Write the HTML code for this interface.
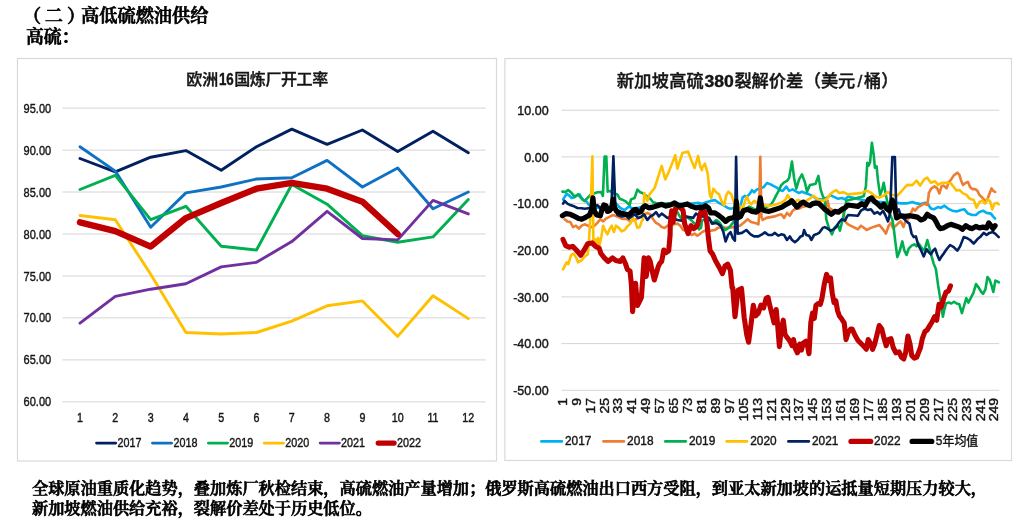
<!DOCTYPE html>
<html lang="zh"><head><meta charset="utf-8"><title>高低硫燃油供给</title>
<style>
html,body{margin:0;padding:0;background:#fff;}
body{width:1022px;height:522px;position:relative;overflow:hidden;font-family:"Liberation Sans","Noto Sans CJK SC",sans-serif;}
.h{position:absolute;margin:0;font-family:"Liberation Serif","Noto Serif CJK SC",serif;font-weight:600;-webkit-text-stroke:0.7px #000;color:#000;white-space:nowrap;}
svg{position:absolute;left:0;top:0;}
svg text{font-family:"Liberation Sans","Noto Sans CJK SC",sans-serif;fill:#151515;stroke:#151515;stroke-width:0.4px;}
</style></head><body>
<div class="h" style="left:26.5px;top:3.8px;font-size:18.2px;line-height:24px;"><span style="position:relative;left:-3.5px">（</span>二<span style="position:relative;left:4px">）</span>高低硫燃油供给</div>
<div class="h" style="left:26px;top:25.2px;font-size:17.8px;line-height:24px;">高硫：</div>
<div class="h" style="left:32px;top:479px;font-size:16.2px;line-height:20px;">全球原油重质化趋势，叠加炼厂秋检结束，高硫燃油产量增加；俄罗斯高硫燃油出口西方受阻，到亚太新加坡的运抵量短期压力较大，</div>
<div class="h" style="left:32px;top:498.7px;font-size:16.2px;line-height:20px;">新加坡燃油供给充裕，裂解价差处于历史低位。</div>
<svg width="1022" height="522" viewBox="0 0 1022 522">

<rect x="17.5" y="58.5" width="479" height="402.5" fill="#fff" stroke="#D9D9D9" stroke-width="1.2"/>
<rect x="504.9" y="58.5" width="506.6" height="402" fill="#fff" stroke="#D9D9D9" stroke-width="1.2"/>
<line x1="62.4" x2="485.7" y1="108.1" y2="108.1" stroke="#D4D4D4" stroke-width="1"/>
<text x="51.2" y="112.6" font-size="12.9" text-anchor="end" textLength="27.6" lengthAdjust="spacingAndGlyphs">95.00</text>
<line x1="62.4" x2="485.7" y1="150.1" y2="150.1" stroke="#D4D4D4" stroke-width="1"/>
<text x="51.2" y="154.6" font-size="12.9" text-anchor="end" textLength="27.6" lengthAdjust="spacingAndGlyphs">90.00</text>
<line x1="62.4" x2="485.7" y1="192.0" y2="192.0" stroke="#D4D4D4" stroke-width="1"/>
<text x="51.2" y="196.5" font-size="12.9" text-anchor="end" textLength="27.6" lengthAdjust="spacingAndGlyphs">85.00</text>
<line x1="62.4" x2="485.7" y1="234.0" y2="234.0" stroke="#D4D4D4" stroke-width="1"/>
<text x="51.2" y="238.5" font-size="12.9" text-anchor="end" textLength="27.6" lengthAdjust="spacingAndGlyphs">80.00</text>
<line x1="62.4" x2="485.7" y1="276.0" y2="276.0" stroke="#D4D4D4" stroke-width="1"/>
<text x="51.2" y="280.5" font-size="12.9" text-anchor="end" textLength="27.6" lengthAdjust="spacingAndGlyphs">75.00</text>
<line x1="62.4" x2="485.7" y1="317.9" y2="317.9" stroke="#D4D4D4" stroke-width="1"/>
<text x="51.2" y="322.4" font-size="12.9" text-anchor="end" textLength="27.6" lengthAdjust="spacingAndGlyphs">70.00</text>
<line x1="62.4" x2="485.7" y1="359.9" y2="359.9" stroke="#D4D4D4" stroke-width="1"/>
<text x="51.2" y="364.4" font-size="12.9" text-anchor="end" textLength="27.6" lengthAdjust="spacingAndGlyphs">65.00</text>
<line x1="62.4" x2="485.7" y1="401.9" y2="401.9" stroke="#D4D4D4" stroke-width="1"/>
<text x="51.2" y="406.4" font-size="12.9" text-anchor="end" textLength="27.6" lengthAdjust="spacingAndGlyphs">60.00</text>
<text x="80.0" y="422.2" font-size="12.6" text-anchor="middle" transform="translate(80.0 0) scale(0.85 1) translate(-80.0 0)">1</text>
<text x="115.3" y="422.2" font-size="12.6" text-anchor="middle" transform="translate(115.3 0) scale(0.85 1) translate(-115.3 0)">2</text>
<text x="150.7" y="422.2" font-size="12.6" text-anchor="middle" transform="translate(150.7 0) scale(0.85 1) translate(-150.7 0)">3</text>
<text x="185.9" y="422.2" font-size="12.6" text-anchor="middle" transform="translate(185.9 0) scale(0.85 1) translate(-185.9 0)">4</text>
<text x="221.2" y="422.2" font-size="12.6" text-anchor="middle" transform="translate(221.2 0) scale(0.85 1) translate(-221.2 0)">5</text>
<text x="256.5" y="422.2" font-size="12.6" text-anchor="middle" transform="translate(256.5 0) scale(0.85 1) translate(-256.5 0)">6</text>
<text x="291.8" y="422.2" font-size="12.6" text-anchor="middle" transform="translate(291.8 0) scale(0.85 1) translate(-291.8 0)">7</text>
<text x="327.1" y="422.2" font-size="12.6" text-anchor="middle" transform="translate(327.1 0) scale(0.85 1) translate(-327.1 0)">8</text>
<text x="362.4" y="422.2" font-size="12.6" text-anchor="middle" transform="translate(362.4 0) scale(0.85 1) translate(-362.4 0)">9</text>
<text x="397.7" y="422.2" font-size="12.6" text-anchor="middle" transform="translate(397.7 0) scale(0.85 1) translate(-397.7 0)">10</text>
<text x="433.0" y="422.2" font-size="12.6" text-anchor="middle" transform="translate(433.0 0) scale(0.85 1) translate(-433.0 0)">11</text>
<text x="468.3" y="422.2" font-size="12.6" text-anchor="middle" transform="translate(468.3 0) scale(0.85 1) translate(-468.3 0)">12</text>
<text x="218.3" y="85.3" font-size="16" font-weight="500" text-anchor="end" fill="#111">欧洲</text>
<text x="218.9" y="85.3" font-size="16" font-weight="700" textLength="14.8" lengthAdjust="spacingAndGlyphs" fill="#111">16</text>
<text x="234.2" y="85.3" font-size="16" font-weight="500" textLength="94" lengthAdjust="spacing" fill="#111">国炼厂开工率</text>
<polyline points="80.0,158.5 115.3,171.9 150.7,157.2 185.9,150.6 221.2,170.2 256.5,146.7 291.8,129.1 327.1,144.4 362.4,130.0 397.7,151.5 433.0,131.3 468.3,152.7" fill="none" stroke="#002060" stroke-width="2.9" stroke-linejoin="round" stroke-linecap="round"/>
<polyline points="80.0,146.7 115.3,171.1 150.7,227.3 185.9,192.9 221.2,187.0 256.5,179.0 291.8,177.8 327.1,160.4 362.4,187.0 397.7,168.0 433.0,208.8 468.3,192.0" fill="none" stroke="#0F71C3" stroke-width="2.9" stroke-linejoin="round" stroke-linecap="round"/>
<polyline points="80.0,189.5 115.3,175.3 150.7,219.7 185.9,206.3 221.2,246.2 256.5,250.0 291.8,184.5 327.1,204.2 362.4,235.7 397.7,242.2 433.0,236.9 468.3,199.6" fill="none" stroke="#00B050" stroke-width="2.9" stroke-linejoin="round" stroke-linecap="round"/>
<polyline points="80.0,215.5 115.3,219.7 150.7,274.3 185.9,332.5 221.2,334.0 256.5,332.5 291.8,321.1 327.1,305.8 362.4,300.9 397.7,336.4 433.0,295.7 468.3,318.6" fill="none" stroke="#FFC000" stroke-width="2.9" stroke-linejoin="round" stroke-linecap="round"/>
<polyline points="80.0,323.2 115.3,296.3 150.7,289.2 185.9,283.7 221.2,266.9 256.5,262.3 291.8,241.6 327.1,211.3 362.4,238.5 397.7,239.9 433.0,200.4 468.3,213.9" fill="none" stroke="#7030A0" stroke-width="2.9" stroke-linejoin="round" stroke-linecap="round"/>
<polyline points="80.0,222.3 115.3,231.1 150.7,246.6 185.9,218.1 221.2,203.0 256.5,188.7 291.8,182.8 327.1,188.7 362.4,201.7 397.7,234.0" fill="none" stroke="#C00000" stroke-width="6.4" stroke-linejoin="round" stroke-linecap="round"/>
<line x1="96.5" x2="115.8" y1="443.1" y2="443.1" stroke="#002060" stroke-width="2.7" stroke-linecap="round"/>
<text x="117.5" y="446.9" font-size="12.8" textLength="24" lengthAdjust="spacingAndGlyphs">2017</text>
<line x1="152.4" x2="171.7" y1="443.1" y2="443.1" stroke="#0F71C3" stroke-width="2.7" stroke-linecap="round"/>
<text x="173.4" y="446.9" font-size="12.8" textLength="24" lengthAdjust="spacingAndGlyphs">2018</text>
<line x1="208.3" x2="227.6" y1="443.1" y2="443.1" stroke="#00B050" stroke-width="2.7" stroke-linecap="round"/>
<text x="229.3" y="446.9" font-size="12.8" textLength="24" lengthAdjust="spacingAndGlyphs">2019</text>
<line x1="264.2" x2="283.5" y1="443.1" y2="443.1" stroke="#FFC000" stroke-width="2.7" stroke-linecap="round"/>
<text x="285.2" y="446.9" font-size="12.8" textLength="24" lengthAdjust="spacingAndGlyphs">2020</text>
<line x1="320.1" x2="339.4" y1="443.1" y2="443.1" stroke="#7030A0" stroke-width="2.7" stroke-linecap="round"/>
<text x="341.1" y="446.9" font-size="12.8" textLength="24" lengthAdjust="spacingAndGlyphs">2021</text>
<line x1="378.2" x2="394.1" y1="443.1" y2="443.1" stroke="#C00000" stroke-width="5.2" stroke-linecap="round"/>
<text x="397.0" y="446.9" font-size="12.8" textLength="24" lengthAdjust="spacingAndGlyphs">2022</text>
<line x1="561.5" x2="999.2" y1="110.2" y2="110.2" stroke="#D4D4D4" stroke-width="1"/>
<text x="0" y="0" font-size="13.2" text-anchor="end" transform="translate(548.7 114.9) scale(0.95 1)">10.00</text>
<line x1="561.5" x2="999.2" y1="156.9" y2="156.9" stroke="#D4D4D4" stroke-width="1"/>
<text x="0" y="0" font-size="13.2" text-anchor="end" transform="translate(548.7 161.6) scale(0.95 1)">0.00</text>
<line x1="561.5" x2="999.2" y1="203.6" y2="203.6" stroke="#D4D4D4" stroke-width="1"/>
<text x="0" y="0" font-size="13.2" text-anchor="end" transform="translate(548.7 208.3) scale(0.95 1)">-10.00</text>
<line x1="561.5" x2="999.2" y1="250.2" y2="250.2" stroke="#D4D4D4" stroke-width="1"/>
<text x="0" y="0" font-size="13.2" text-anchor="end" transform="translate(548.7 254.9) scale(0.95 1)">-20.00</text>
<line x1="561.5" x2="999.2" y1="296.9" y2="296.9" stroke="#D4D4D4" stroke-width="1"/>
<text x="0" y="0" font-size="13.2" text-anchor="end" transform="translate(548.7 301.6) scale(0.95 1)">-30.00</text>
<line x1="561.5" x2="999.2" y1="343.6" y2="343.6" stroke="#D4D4D4" stroke-width="1"/>
<text x="0" y="0" font-size="13.2" text-anchor="end" transform="translate(548.7 348.3) scale(0.95 1)">-40.00</text>
<line x1="561.5" x2="999.2" y1="390.3" y2="390.3" stroke="#D4D4D4" stroke-width="1"/>
<text x="0" y="0" font-size="13.2" text-anchor="end" transform="translate(548.7 395.0) scale(0.95 1)">-50.00</text>
<text x="0" y="0" font-size="11.9" text-anchor="end" transform="translate(566.7 397.9) rotate(-90) scale(1.18 1)">1</text>
<text x="0" y="0" font-size="11.9" text-anchor="end" transform="translate(580.6 397.9) rotate(-90) scale(1.18 1)">9</text>
<text x="0" y="0" font-size="11.9" text-anchor="end" transform="translate(594.5 397.9) rotate(-90) scale(1.18 1)">17</text>
<text x="0" y="0" font-size="11.9" text-anchor="end" transform="translate(608.5 397.9) rotate(-90) scale(1.18 1)">25</text>
<text x="0" y="0" font-size="11.9" text-anchor="end" transform="translate(622.4 397.9) rotate(-90) scale(1.18 1)">33</text>
<text x="0" y="0" font-size="11.9" text-anchor="end" transform="translate(636.3 397.9) rotate(-90) scale(1.18 1)">41</text>
<text x="0" y="0" font-size="11.9" text-anchor="end" transform="translate(650.2 397.9) rotate(-90) scale(1.18 1)">49</text>
<text x="0" y="0" font-size="11.9" text-anchor="end" transform="translate(664.2 397.9) rotate(-90) scale(1.18 1)">57</text>
<text x="0" y="0" font-size="11.9" text-anchor="end" transform="translate(678.1 397.9) rotate(-90) scale(1.18 1)">65</text>
<text x="0" y="0" font-size="11.9" text-anchor="end" transform="translate(692.0 397.9) rotate(-90) scale(1.18 1)">73</text>
<text x="0" y="0" font-size="11.9" text-anchor="end" transform="translate(705.9 397.9) rotate(-90) scale(1.18 1)">81</text>
<text x="0" y="0" font-size="11.9" text-anchor="end" transform="translate(719.9 397.9) rotate(-90) scale(1.18 1)">89</text>
<text x="0" y="0" font-size="11.9" text-anchor="end" transform="translate(733.8 397.9) rotate(-90) scale(1.18 1)">97</text>
<text x="0" y="0" font-size="11.9" text-anchor="end" transform="translate(747.7 397.9) rotate(-90) scale(1.18 1)">105</text>
<text x="0" y="0" font-size="11.9" text-anchor="end" transform="translate(761.6 397.9) rotate(-90) scale(1.18 1)">113</text>
<text x="0" y="0" font-size="11.9" text-anchor="end" transform="translate(775.6 397.9) rotate(-90) scale(1.18 1)">121</text>
<text x="0" y="0" font-size="11.9" text-anchor="end" transform="translate(789.5 397.9) rotate(-90) scale(1.18 1)">129</text>
<text x="0" y="0" font-size="11.9" text-anchor="end" transform="translate(803.4 397.9) rotate(-90) scale(1.18 1)">137</text>
<text x="0" y="0" font-size="11.9" text-anchor="end" transform="translate(817.4 397.9) rotate(-90) scale(1.18 1)">145</text>
<text x="0" y="0" font-size="11.9" text-anchor="end" transform="translate(831.3 397.9) rotate(-90) scale(1.18 1)">153</text>
<text x="0" y="0" font-size="11.9" text-anchor="end" transform="translate(845.2 397.9) rotate(-90) scale(1.18 1)">161</text>
<text x="0" y="0" font-size="11.9" text-anchor="end" transform="translate(859.1 397.9) rotate(-90) scale(1.18 1)">169</text>
<text x="0" y="0" font-size="11.9" text-anchor="end" transform="translate(873.1 397.9) rotate(-90) scale(1.18 1)">177</text>
<text x="0" y="0" font-size="11.9" text-anchor="end" transform="translate(887.0 397.9) rotate(-90) scale(1.18 1)">185</text>
<text x="0" y="0" font-size="11.9" text-anchor="end" transform="translate(900.9 397.9) rotate(-90) scale(1.18 1)">193</text>
<text x="0" y="0" font-size="11.9" text-anchor="end" transform="translate(914.8 397.9) rotate(-90) scale(1.18 1)">201</text>
<text x="0" y="0" font-size="11.9" text-anchor="end" transform="translate(928.8 397.9) rotate(-90) scale(1.18 1)">209</text>
<text x="0" y="0" font-size="11.9" text-anchor="end" transform="translate(942.7 397.9) rotate(-90) scale(1.18 1)">217</text>
<text x="0" y="0" font-size="11.9" text-anchor="end" transform="translate(956.6 397.9) rotate(-90) scale(1.18 1)">225</text>
<text x="0" y="0" font-size="11.9" text-anchor="end" transform="translate(970.6 397.9) rotate(-90) scale(1.18 1)">233</text>
<text x="0" y="0" font-size="11.9" text-anchor="end" transform="translate(984.5 397.9) rotate(-90) scale(1.18 1)">241</text>
<text x="0" y="0" font-size="11.9" text-anchor="end" transform="translate(998.4 397.9) rotate(-90) scale(1.18 1)">249</text>
<text x="616.8" y="87" font-size="17.2" font-weight="500" textLength="87" lengthAdjust="spacing" fill="#111">新加坡高硫</text>
<text x="704.4" y="87" font-size="17.2" font-weight="700" textLength="29.4" lengthAdjust="spacingAndGlyphs" fill="#111">380</text>
<text x="734.4" y="87" font-size="17.2" font-weight="500" fill="#111">裂解价差</text>
<text x="803.7" y="87" font-size="17.2" font-weight="500" fill="#111">（美元</text>
<text x="859.9" y="87" font-size="17.2" font-weight="500" text-anchor="middle" fill="#111">/</text>
<text x="864" y="87" font-size="17.2" font-weight="500" fill="#111">桶）</text>
<polyline points="563.1,199.4 566.7,193.7 569.6,195.9 571.7,198.0 574.6,197.3 577.4,195.1 579.6,194.4 582.4,199.4 584.6,200.9 586.7,201.6 588.9,205.1 593.1,206.6 598.9,208.0 604.6,209.4 610.3,206.6 616.0,203.7 620.3,208.0 624.6,210.1 628.9,206.6 631.7,208.0 636.0,208.6 641.7,207.1 648.9,206.4 656.0,205.7 663.1,205.0 670.3,204.3 677.4,203.6 684.6,204.3 691.7,203.6 698.9,202.9 702.0,203.7 706.3,202.3 710.6,200.9 714.9,200.1 719.1,203.0 723.4,205.1 727.7,208.0 730.6,208.7 736.3,207.3 740.6,205.1 742.7,197.3 744.9,195.9 747.0,196.6 749.9,193.7 752.0,190.1 754.1,192.3 757.0,189.4 759.1,188.7 763.4,187.3 767.0,183.0 770.6,184.4 773.4,185.9 776.3,187.3 779.9,190.1 782.7,190.9 786.3,186.6 789.1,190.9 792.7,189.4 796.3,191.6 799.1,193.0 802.0,191.6 804.9,193.0 807.7,193.7 810.6,195.1 813.4,196.6 816.3,198.7 820.6,199.4 826.3,198.0 830.6,195.1 833.4,196.6 837.7,198.7 842.0,198.0 844.9,199.4 848.0,196.6 858.0,199.1 865.1,200.6 872.3,201.3 880.9,202.0 889.4,202.7 896.6,202.7 900.9,203.4 906.6,203.4 912.3,202.0 916.6,203.4 920.9,204.1 925.1,202.7 928.0,204.3 930.9,208.6 933.7,209.3 938.0,207.1 940.9,207.9 944.4,205.7 948.0,208.6 952.3,210.7 956.6,211.4 960.9,210.0 964.4,209.3 968.0,213.6 972.3,215.0 975.9,215.0 979.4,212.1 983.0,210.7 986.6,212.9 990.9,213.6 993.0,216.4 995.1,218.6" fill="none" stroke="#00B0F0" stroke-width="2.6" stroke-linejoin="round" stroke-linecap="round"/>
<polyline points="564.6,219.3 567.4,221.4 570.3,222.1 573.1,227.1 576.0,225.7 578.9,228.6 581.7,225.7 584.6,224.3 588.1,225.7 591.7,227.1 594.6,225.7 597.4,222.9 600.3,219.3 603.1,221.4 606.0,218.6 610.3,216.4 613.1,215.0 617.4,216.4 621.7,218.6 627.4,219.3 630.3,221.4 636.0,219.3 641.7,216.4 647.4,212.9 650.3,214.3 653.1,219.3 656.0,222.9 658.9,224.3 661.7,227.1 664.6,227.9 667.4,225.7 671.7,225.0 677.4,223.6 680.3,225.7 683.1,230.0 686.0,230.7 688.9,232.9 691.7,235.0 694.6,233.6 697.4,235.7 700.3,233.6 702.0,232.1 706.3,230.0 710.6,230.7 714.9,230.0 717.7,227.9 720.6,227.1 726.3,227.9 733.4,227.1 739.9,225.7 743.4,222.9 747.7,219.3 751.3,222.1 754.9,222.9 758.4,224.3 759.1,216.4 760.3,156.7 761.4,216.4 762.7,220.0 766.3,217.9 770.6,217.1 774.9,216.4 778.4,215.0 781.3,214.3 784.1,217.9 787.0,212.9 789.9,215.7 792.7,210.7 795.6,208.6 799.1,208.6 802.0,207.1 807.7,205.7 812.0,205.0 819.1,204.3 824.9,207.9 826.3,206.4 827.7,200.7 829.1,207.9 833.4,210.7 839.1,211.4 843.4,212.1 845.6,222.1 848.0,224.3 858.0,229.3 860.9,225.7 865.1,228.6 866.6,230.0 870.9,227.9 875.1,226.4 879.4,225.0 883.0,229.3 885.9,233.6 888.7,225.7 890.9,222.9 893.0,227.9 895.9,225.7 898.7,222.9 900.9,221.4 903.4,227.1 905.9,220.0 908.0,219.3 910.1,215.0 913.0,208.6 915.1,210.7 918.0,207.1 920.9,205.7 923.7,203.6 927.3,205.0 928.7,195.0 928.7,193.4 930.9,189.1 934.4,186.3 937.3,188.4 939.4,193.4 941.6,186.3 943.7,185.6 946.6,188.4 948.7,182.0 950.9,179.9 953.7,175.6 957.3,172.7 959.4,174.9 960.9,179.9 963.0,184.9 965.9,182.7 968.0,182.0 970.1,187.0 972.3,189.1 975.1,189.1 977.3,190.6 979.4,194.9 981.6,197.0 983.7,199.1 985.9,202.0 988.0,197.7 990.1,192.0 991.6,188.4 993.0,190.6 995.1,192.0" fill="none" stroke="#ED7D31" stroke-width="2.6" stroke-linejoin="round" stroke-linecap="round"/>
<polyline points="562.4,191.6 565.3,192.0 568.1,190.1 571.0,192.3 574.6,196.6 578.1,194.4 581.0,198.0 584.6,200.9 591.0,194.4 597.4,192.3 601.0,192.0 602.9,195.9 604.6,156.6 606.3,156.6 607.7,191.6 610.3,190.9 612.4,193.0 617.4,194.4 619.6,198.7 621.7,199.4 626.0,201.6 629.6,205.1 631.0,199.4 634.6,198.0 637.4,189.7 640.3,192.3 642.4,193.0 645.3,195.1 650.3,198.7 653.1,202.3 656.0,203.0 661.7,203.7 668.9,203.4 674.6,206.4 678.9,215.0 681.7,219.3 686.0,216.4 690.3,219.3 694.6,223.6 698.9,229.3 701.0,227.9 702.0,220.7 704.9,219.3 708.4,217.9 712.7,222.9 716.3,220.0 719.1,222.1 722.0,226.4 724.9,230.0 727.7,228.6 730.6,225.7 733.4,222.1 737.7,217.9 742.0,213.6 749.1,206.6 754.9,209.4 762.0,208.7 770.6,205.1 773.4,200.9 776.3,195.1 779.1,190.1 781.3,185.1 784.1,182.3 787.0,180.9 789.1,178.0 792.0,161.6 794.1,178.0 796.3,188.7 799.1,179.4 802.0,174.4 804.9,182.3 807.0,191.6 809.9,185.1 812.7,184.4 815.6,183.7 818.4,175.9 820.6,189.4 822.7,195.9 824.9,199.4 826.3,219.3 829.1,228.6 832.0,234.3 834.9,227.1 837.7,224.3 839.9,230.7 842.7,219.3 844.9,209.3 846.3,200.7 863.7,196.3 865.9,186.3 867.3,162.7 868.7,165.6 870.1,162.0 871.9,142.7 873.7,154.9 874.9,167.7 876.6,166.3 878.0,180.6 880.1,194.9 882.3,189.1 883.7,182.7 885.9,194.9 887.3,202.0 888.7,212.1 892.3,219.3 893.7,227.9 895.4,242.1 897.3,257.1 899.4,252.1 902.3,241.4 904.4,250.7 906.6,255.0 908.7,248.6 911.6,245.7 914.4,244.3 916.6,246.4 918.7,243.6 921.6,247.9 924.4,250.7 927.3,240.0 929.4,247.9 931.6,256.4 933.7,263.6 935.9,269.3 938.2,285.9 940.8,301.7 942.9,316.7 944.3,309.6 946.1,303.5 948.7,302.6 951.4,303.5 954.0,301.7 956.6,303.5 959.3,304.3 961.9,313.2 963.7,307.0 966.3,298.2 968.4,302.6 970.7,298.2 973.4,292.9 976.0,284.1 978.7,287.6 981.3,292.0 983.1,293.8 985.4,289.4 987.5,277.0 989.6,279.7 991.9,286.7 993.3,292.0 995.4,280.6 997.2,281.4 998.9,282.3" fill="none" stroke="#00B050" stroke-width="2.6" stroke-linejoin="round" stroke-linecap="round"/>
<polyline points="563.0,269.3 566.6,262.3 568.3,264.1 571.0,255.3 573.6,253.5 576.3,257.9 578.0,262.3 581.5,260.5 585.1,256.1 587.7,254.4 588.9,242.1 590.3,217.9 592.4,156.4 593.4,242.1 595.3,239.3 596.7,243.6 598.1,237.9 599.6,245.0 601.4,236.4 603.1,225.7 605.3,230.7 607.4,234.3 609.6,229.3 611.7,225.7 613.9,232.1 616.0,225.7 618.9,227.9 621.7,231.4 624.6,230.0 627.4,226.4 630.3,223.6 633.1,217.9 635.3,221.4 637.4,227.9 639.6,227.1 641.7,221.4 643.1,219.3 644.3,193.0 647.4,200.9 649.6,194.4 654.6,188.0 661.7,165.9 665.3,179.4 668.9,171.6 675.3,155.1 677.4,168.7 682.4,153.0 685.3,152.3 688.1,151.6 691.0,159.4 694.6,168.0 698.1,155.9 700.3,166.6 702.0,170.1 702.0,168.0 704.9,163.7 707.7,173.7 709.9,195.1 711.3,198.0 713.4,188.7 716.3,192.3 719.1,194.4 722.0,202.3 724.1,205.1 726.3,195.1 728.4,191.6 731.3,194.4 733.4,200.9 736.3,204.4 739.1,205.1 741.3,209.4 743.4,206.6 745.6,199.4 747.0,196.6 749.1,202.3 751.3,204.4 754.1,200.9 757.0,202.3 762.0,205.1 769.1,205.9 776.3,204.4 782.0,202.3 785.6,199.4 787.7,195.1 789.9,198.7 793.4,202.3 797.7,200.1 802.0,201.6 806.3,200.9 810.6,198.0 813.4,195.9 816.3,198.0 819.1,200.1 823.4,200.9 827.7,198.0 830.6,193.7 833.4,191.6 836.3,190.1 839.1,193.0 843.4,192.3 848.0,194.4 858.0,193.4 862.3,192.7 866.6,190.6 870.9,192.7 875.1,196.3 879.4,197.7 883.7,195.6 888.0,192.0 891.6,194.9 897.3,195.6 900.9,192.0 905.1,187.0 907.3,184.9 912.3,185.1 916.6,180.6 920.1,185.6 924.4,179.1 927.3,177.7 930.9,182.7 935.1,181.3 938.0,184.9 942.3,182.7 946.6,182.7 950.9,183.4 953.7,187.0 956.6,190.6 959.4,189.9 963.0,193.4 966.6,194.9 969.4,198.4 973.7,199.9 976.6,207.7 979.4,202.1 982.3,200.7 985.1,203.6 988.0,199.3 990.1,201.4 992.3,209.3 994.4,203.6 997.3,202.9 998.7,204.3" fill="none" stroke="#FFC000" stroke-width="2.6" stroke-linejoin="round" stroke-linecap="round"/>
<polyline points="563.1,203.7 564.6,200.9 567.4,203.7 570.3,205.1 574.6,206.6 577.4,208.0 581.7,208.3 584.6,208.7 590.3,208.0 597.4,205.1 600.3,208.0 606.0,209.4 611.4,206.6 613.4,156.3 615.3,205.1 617.4,215.0 621.7,216.4 626.0,215.7 628.9,218.6 631.7,216.4 634.6,214.3 638.1,217.9 641.0,217.1 643.9,214.3 647.4,220.0 650.3,216.4 653.1,215.0 656.0,212.1 658.9,216.4 661.7,213.6 664.6,215.7 667.4,217.9 670.3,217.1 673.9,218.6 677.4,220.0 681.7,220.7 684.6,216.4 688.9,217.1 693.1,217.9 696.0,213.6 700.3,216.4 704.9,216.4 709.1,217.9 712.0,223.6 716.3,222.9 720.6,225.7 723.4,232.1 725.6,241.4 728.4,234.3 730.6,232.1 732.7,237.9 734.9,240.7 736.1,156.7 737.7,233.6 742.0,232.9 746.3,230.0 750.6,234.3 754.1,236.4 758.4,236.4 762.0,234.3 764.9,232.4 768.4,235.0 772.0,235.0 774.9,232.9 778.4,235.7 781.3,234.3 784.1,235.0 787.0,240.0 789.9,236.4 792.0,240.0 794.9,242.1 797.7,240.0 800.6,236.4 802.7,235.7 804.1,230.0 806.3,235.0 809.1,235.7 811.3,240.0 814.1,235.0 816.3,234.3 819.1,232.9 822.7,227.9 824.9,227.1 827.7,228.6 830.6,230.7 833.4,229.3 836.3,227.1 839.1,222.1 842.0,219.3 844.9,220.7 848.0,215.0 858.0,215.7 860.9,210.7 864.4,208.6 868.0,210.0 870.9,209.3 874.4,213.6 877.3,212.1 880.1,214.3 883.0,210.7 885.9,216.4 888.0,221.4 890.1,213.6 892.3,157.1 894.9,157.1 896.3,212.1 898.7,209.3 900.9,216.4 903.7,218.6 907.3,222.1 909.4,223.6 911.6,233.6 913.7,237.1 915.9,236.4 918.0,244.3 920.9,250.0 923.7,256.4 926.6,249.3 928.7,252.1 930.9,254.3 933.0,250.7 935.1,248.6 937.3,255.0 939.4,260.0 941.6,256.4 943.7,253.6 946.6,249.3 950.1,245.0 953.7,247.1 957.3,250.7 960.1,246.4 963.7,237.1 966.6,237.9 970.1,240.0 973.7,243.6 977.3,239.3 980.1,237.1 983.7,232.9 986.6,235.0 989.4,232.9 993.0,232.1 995.9,234.3 998.7,237.1" fill="none" stroke="#002060" stroke-width="2.6" stroke-linejoin="round" stroke-linecap="round"/>
<polyline points="563.0,239.4 565.7,245.6 569.2,247.3 572.7,246.4 576.3,250.0 580.7,255.3 584.2,250.0 587.7,243.8 592.1,242.9 595.6,246.4 599.2,248.2 600.9,253.5 604.4,257.9 608.0,261.4 612.4,257.9 615.9,260.5 620.3,261.4 622.9,257.9 625.6,264.1 627.3,269.3 630.0,271.1 631.4,284.3 632.6,311.6 634.4,293.1 635.6,283.4 637.4,305.5 639.7,301.0 641.4,297.5 642.7,279.0 644.1,257.9 646.2,276.4 648.5,257.9 650.2,261.4 652.0,270.2 654.3,279.9 656.4,272.9 658.2,266.7 659.9,263.2 661.7,261.4 663.8,250.0 666.1,252.6 668.7,250.9 670.1,235.0 670.3,223.6 671.7,210.7 673.1,222.1 674.9,210.7 675.7,208.0 678.9,206.6 681.7,208.7 683.1,210.7 684.6,223.6 688.1,233.6 691.0,225.7 693.9,228.6 697.4,225.7 700.3,213.6 702.0,209.3 704.9,212.1 707.0,223.6 708.4,237.9 710.1,250.9 712.8,254.4 715.4,260.5 718.9,266.7 722.4,273.7 725.1,265.8 727.7,264.1 730.4,270.2 732.1,287.8 732.7,287.6 735.0,316.7 738.0,290.3 741.5,288.5 744.2,317.6 746.8,335.2 748.6,342.2 751.2,322.8 753.3,305.2 755.6,315.8 758.3,313.2 760.9,305.2 763.6,307.9 766.2,298.2 768.0,297.3 769.7,305.2 772.4,315.8 774.1,322.8 776.2,309.6 777.6,324.6 779.4,346.6 781.2,329.9 783.3,320.2 785.0,334.3 787.3,337.8 790.0,341.3 792.1,345.7 793.5,339.6 795.3,348.4 797.4,352.8 799.7,344.0 801.4,350.1 803.2,343.1 805.8,341.3 807.6,346.6 809.0,353.7 810.8,322.8 812.5,313.2 814.3,318.4 816.0,305.2 818.2,303.5 820.3,304.3 822.0,298.2 824.3,284.1 826.6,274.4 828.7,280.6 830.5,277.9 832.2,292.9 834.0,302.6 835.8,300.8 837.5,310.5 839.3,315.8 841.9,319.3 844.2,322.8 846.0,339.6 848.1,332.5 850.7,329.0 852.2,329.0 855.0,335.2 858.0,340.5 861.5,344.0 864.2,346.6 866.3,349.3 868.2,339.6 870.3,343.1 872.6,349.3 874.7,344.0 876.9,335.2 879.2,325.5 881.8,329.0 883.9,337.8 886.2,345.7 888.3,339.6 891.0,338.7 893.2,347.5 895.9,352.8 899.1,351.9 901.5,357.2 903.8,358.9 905.6,352.8 907.9,336.0 910.0,344.0 911.7,355.4 914.4,358.1 916.7,357.2 918.8,351.9 920.5,347.5 922.3,338.7 924.9,331.6 927.2,329.9 929.3,326.4 932.0,322.0 934.6,316.7 936.7,320.2 939.0,304.3 941.3,307.0 943.8,298.2 946.1,292.0 948.4,291.1 950.5,285.9" fill="none" stroke="#C00000" stroke-width="5.1" stroke-linejoin="round" stroke-linecap="round"/>
<polyline points="562.4,215.7 566.0,213.6 570.3,214.3 574.6,216.4 578.9,218.6 581.7,219.3 586.0,217.1 589.6,215.0 591.7,209.3 592.9,197.9 594.3,210.7 596.7,215.0 600.3,215.7 602.4,207.9 603.9,205.0 606.0,205.7 607.4,211.4 609.6,210.7 611.7,207.9 613.1,199.3 614.6,207.9 616.7,211.4 620.3,212.9 626.0,214.3 628.9,215.0 631.7,212.1 633.9,210.0 636.0,209.3 638.1,212.9 641.0,211.4 643.1,207.1 645.3,205.7 648.9,207.9 653.1,207.1 657.4,205.7 661.7,204.3 666.0,206.1 670.3,205.0 674.6,202.9 678.9,205.7 683.1,205.0 687.4,203.9 691.7,206.4 696.0,207.9 700.3,207.1 702.0,207.9 705.6,205.7 708.4,207.9 710.6,212.9 714.9,212.9 719.1,215.7 722.7,218.6 725.6,221.4 729.1,218.6 732.7,217.9 735.1,216.4 736.3,201.4 737.7,217.9 740.6,216.4 743.4,210.7 747.7,209.3 752.0,211.4 756.3,212.1 758.4,210.7 760.3,197.9 762.0,209.3 764.9,210.7 769.1,211.4 773.4,210.0 777.7,208.6 782.0,207.1 786.3,204.3 789.1,202.9 791.7,200.7 794.1,203.6 797.0,207.1 800.6,203.6 803.4,202.1 806.3,204.3 809.9,205.7 812.7,203.6 816.3,202.9 819.1,203.6 822.0,206.4 824.9,209.3 827.7,211.4 831.3,214.3 834.9,211.4 838.4,212.1 842.0,209.3 844.9,207.9 848.0,205.0 858.0,206.4 861.6,203.6 865.1,205.7 868.7,199.3 871.6,197.9 874.4,201.4 877.3,203.6 880.9,207.1 883.7,204.3 886.6,208.6 889.4,210.7 892.3,200.0 894.4,205.0 896.6,217.9 900.9,215.7 905.1,216.4 909.4,215.7 913.7,216.4 917.3,217.1 920.9,220.0 924.4,218.6 927.3,214.3 930.1,216.4 933.7,217.9 935.9,221.4 938.0,225.7 940.1,228.6 943.7,227.9 947.3,225.7 950.9,224.3 955.1,225.7 959.4,227.1 962.3,229.3 965.9,225.7 969.4,227.9 972.3,228.6 975.9,226.4 979.4,227.9 983.0,227.1 986.6,227.9 988.7,222.9 990.9,225.7 993.0,228.6 995.1,225.7" fill="none" stroke="#000000" stroke-width="5.2" stroke-linejoin="round" stroke-linecap="round"/>
<line x1="541.4" x2="561.8" y1="441.4" y2="441.4" stroke="#00B0F0" stroke-width="2.7" stroke-linecap="round"/>
<text x="565.0" y="445" font-size="12.8" textLength="26.4" lengthAdjust="spacingAndGlyphs">2017</text>
<line x1="603.5" x2="623.9" y1="441.4" y2="441.4" stroke="#ED7D31" stroke-width="2.7" stroke-linecap="round"/>
<text x="627.1" y="445" font-size="12.8" textLength="26.4" lengthAdjust="spacingAndGlyphs">2018</text>
<line x1="665.3" x2="685.7" y1="441.4" y2="441.4" stroke="#00B050" stroke-width="2.7" stroke-linecap="round"/>
<text x="688.9" y="445" font-size="12.8" textLength="26.4" lengthAdjust="spacingAndGlyphs">2019</text>
<line x1="726.6" x2="747.0" y1="441.4" y2="441.4" stroke="#FFC000" stroke-width="2.7" stroke-linecap="round"/>
<text x="750.2" y="445" font-size="12.8" textLength="26.4" lengthAdjust="spacingAndGlyphs">2020</text>
<line x1="788.4" x2="808.8" y1="441.4" y2="441.4" stroke="#002060" stroke-width="2.7" stroke-linecap="round"/>
<text x="812.0" y="445" font-size="12.8" textLength="26.4" lengthAdjust="spacingAndGlyphs">2021</text>
<line x1="851.0" x2="870.7" y1="441.4" y2="441.4" stroke="#C00000" stroke-width="5.2" stroke-linecap="round"/>
<text x="874.1" y="445" font-size="12.8" textLength="26.4" lengthAdjust="spacingAndGlyphs">2022</text>
<line x1="912.1" x2="931.8" y1="441.4" y2="441.4" stroke="#000000" stroke-width="5.2" stroke-linecap="round"/>
<text x="935.8" y="445.2" font-size="12.8" font-weight="400" textLength="42.5" lengthAdjust="spacingAndGlyphs">5年均值</text>
</svg></body></html>
